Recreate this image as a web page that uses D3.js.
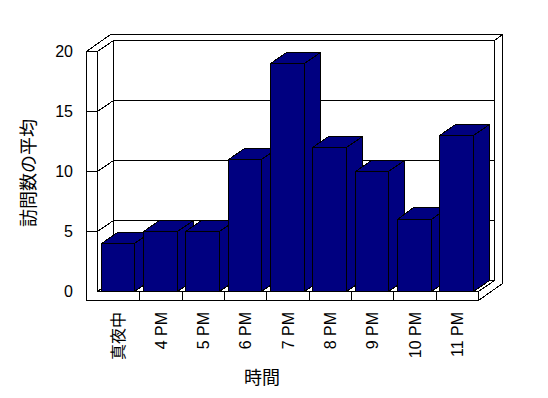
<!DOCTYPE html>
<html>
<head>
<meta charset="utf-8">
<script src="https://cdn.jsdelivr.net/npm/d3@7"></script>
<style>
  body { margin: 0; background: #fff; }
  svg { display: block; }
</style>
</head>
<body>
<div id="chart"></div>
<script>
// data
const categories = ['真夜中', '4 PM', '5 PM', '6 PM', '7 PM', '8 PM', '9 PM', '10 PM', '11 PM'];
const visits = [4, 5, 5, 11, 19, 12, 10, 6, 13];
const yTicks = [0, 5, 10, 15, 20];
const gridTicks = [5, 10, 15];
const yTitle = '訪問数の平均';
const xTitle = '時間';

const width = 548, height = 398;
const wallOuter = 86.5, plotLeft = 97.5, plotRight = 478.5;
const DX = 16, DY = -11.5;   // one unit of depth on screen
const floorThick = 9;
const barColor = '#000080';

const svg = d3.select('#chart')
  .append('svg')
    .attr('width', width)
    .attr('height', height)
    .style('font-family', '"Liberation Sans", "Noto Sans CJK JP", sans-serif');

const y = d3.scaleLinear().domain([0, 20]).range([291.5, 51.5]);
const x = d3.scaleBand().domain(categories).range([plotLeft, plotRight]);

const y0 = y(0), yTop = y(20), yBottom = y(0) + floorThick;

// oblique projection: X, V on the front plane, Z = depth
const P = (X, V, Z) => [X + DX * Z, V + DY * Z];
const snap = v => Math.round(v - 0.5) + 0.5;
const poly = pts => 'M' + pts.map(p => snap(p[0]) + ',' + snap(p[1])).join('L') + 'Z';
const seg = (a, b) => 'M' + snap(a[0]) + ',' + snap(a[1]) + 'L' + snap(b[0]) + ',' + snap(b[1]);

const face = (g, pts, fill) => g.append('path')
  .attr('d', poly(pts))
  .attr('fill', fill || '#fff')
  .attr('stroke', '#000')
  .attr('stroke-width', 1)
  .attr('stroke-linejoin', 'miter')
  .attr('shape-rendering', 'crispEdges');

const walls = svg.append('g');

// back wall, inner face of left wall, floor top
face(walls, [P(plotLeft, yTop, 1), P(plotRight, yTop, 1), P(plotRight, y0, 1), P(plotLeft, y0, 1)]);
face(walls, [P(plotLeft, yTop, 0), P(plotLeft, yTop, 1), P(plotLeft, y0, 1), P(plotLeft, y0, 0)]);
face(walls, [P(plotLeft, y0, 0), P(plotRight, y0, 0), P(plotRight, y0, 1), P(plotLeft, y0, 1)]);

// gridlines on the back wall and the left wall
walls.selectAll('.grid-back')
  .data(gridTicks)
  .join('path')
    .attr('d', d => seg(P(plotLeft, y(d), 1), P(plotRight, y(d), 1)))
    .attr('stroke', '#000')
    .attr('shape-rendering', 'crispEdges');
walls.selectAll('.grid-left')
  .data(gridTicks)
  .join('path')
    .attr('d', d => seg(P(plotLeft, y(d), 0), P(plotLeft, y(d), 1)))
    .attr('stroke', '#000')
    .attr('shape-rendering', 'crispEdges');

// bars
const barOffset = 3.5;
const barW = x.bandwidth() * 0.8;
const bars = svg.append('g');
categories.forEach((c, i) => {
  const bx = x(c) + barOffset, bx2 = bx + barW, yv = y(visits[i]);
  const g = bars.append('g');
  face(g, [P(bx, yv, 0), P(bx2, yv, 0), P(bx2, y0, 0), P(bx, y0, 0)], barColor);
  face(g, [P(bx, yv, 0), P(bx2, yv, 0), P(bx2, yv, 1), P(bx, yv, 1)], barColor);
  face(g, [P(bx2, yv, 0), P(bx2, yv, 1), P(bx2, y0, 1), P(bx2, y0, 0)], barColor);
});

// right end of back wall + floor
const front = svg.append('g');
face(front, [P(plotRight, yTop, 1), P(plotRight, yTop, 1.5), P(plotRight, yBottom, 1.5),
             P(plotRight, yBottom, 0), P(plotRight, y0, 0), P(plotRight, y0, 1)]);
// front of left wall + floor
face(front, [P(wallOuter, yTop, 0), P(plotLeft, yTop, 0), P(plotLeft, y0, 0),
             P(plotRight, y0, 0), P(plotRight, yBottom, 0), P(wallOuter, yBottom, 0)]);
// top of left wall + back wall
face(front, [P(wallOuter, yTop, 0), P(plotLeft, yTop, 0), P(plotLeft, yTop, 1),
             P(plotRight, yTop, 1), P(plotRight, yTop, 1.5), P(wallOuter, yTop, 1.5)]);

// tick marks on the front of the left wall
front.selectAll('.ytick')
  .data(gridTicks)
  .join('path')
    .attr('d', d => seg(P(wallOuter, y(d), 0), P(plotLeft, y(d), 0)))
    .attr('stroke', '#000')
    .attr('shape-rendering', 'crispEdges');

// tick marks on the front of the floor
front.selectAll('.xtick')
  .data(categories.slice(1))
  .join('path')
    .attr('d', d => seg(P(x(d), y0, 0), P(x(d), yBottom, 0)))
    .attr('stroke', '#000')
    .attr('shape-rendering', 'crispEdges');

// y axis labels
svg.append('g')
  .attr('transform', 'translate(73,0)')
  .call(d3.axisLeft(y).tickValues(yTicks).tickSize(0).tickPadding(0))
  .call(g => g.select('.domain').remove())
  .selectAll('text')
    .style('font-family', '"Liberation Sans", sans-serif')
    .style('font-size', '16px')
    .style('fill', '#000');

// category labels, rotated
svg.append('g')
  .selectAll('text')
  .data(categories)
  .join('text')
    .attr('transform', d => `translate(${x(d) + x.bandwidth() / 2},312) rotate(-90)`)
    .attr('text-anchor', 'end')
    .attr('dy', '0.35em')
    .style('font-size', '16px')
    .style('fill', '#000')
    .text(d => d);

// axis titles
svg.append('text')
  .attr('transform', 'translate(29,173) rotate(-90)')
  .attr('text-anchor', 'middle')
  .attr('dy', '0.35em')
  .style('font-family', '"Noto Sans CJK JP", sans-serif')
  .style('font-size', '18px')
  .style('fill', '#000')
  .text(yTitle);

svg.append('text')
  .attr('x', 262)
  .attr('y', 378)
  .attr('text-anchor', 'middle')
  .attr('dy', '0.35em')
  .style('font-family', '"Noto Sans CJK JP", sans-serif')
  .style('font-size', '18px')
  .style('fill', '#000')
  .text(xTitle);
</script>
</body>
</html>
